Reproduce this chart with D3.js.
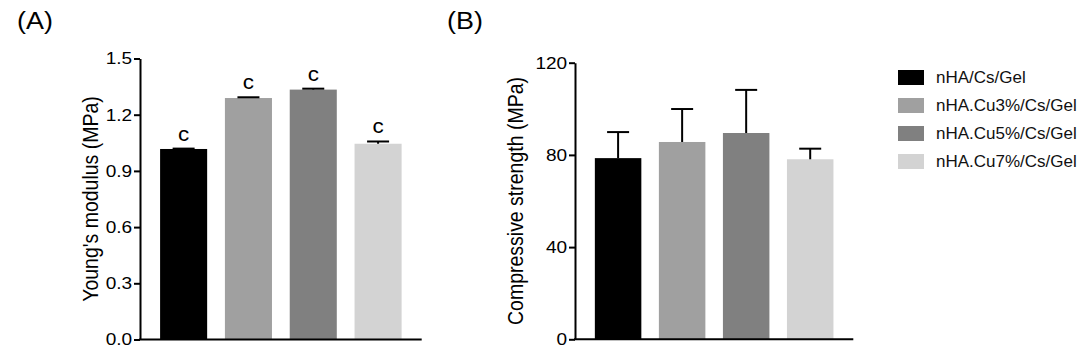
<!DOCTYPE html>
<html>
<head>
<meta charset="utf-8">
<script src="https://cdn.jsdelivr.net/npm/d3@7"></script>
<style>
  body { margin: 0; background: #fff; }
  svg { display: block; font-family: "Liberation Sans", Arial, sans-serif; }
</style>
</head>
<body>
<svg id="graph"></svg>
<script>
// data
var groups = ["nHA/Cs/Gel", "nHA.Cu3%/Cs/Gel", "nHA.Cu5%/Cs/Gel", "nHA.Cu7%/Cs/Gel"];
var youngMean = [1.017, 1.289, 1.334, 1.045];
var youngSd = [0.002, 0.004, 0.005, 0.012];
var youngLetters = ["c", "c", "c", "c"];
var youngTicks = [0, 0.3, 0.6, 0.9, 1.2, 1.5];
var compMean = [78.6, 85.6, 89.5, 78.1];
var compSd = [11.3, 14.3, 18.7, 4.6];
var compTicks = [0, 40, 80, 120];

var barColors = ["#000000", "#a0a0a0", "#808080", "#d3d3d3"];

var width = 1090, height = 353;
var stretch = 1.12;   // the figure text is a bit wider than plain Arial
var svg = d3.select("#graph").attr("width", width).attr("height", height);

function drawPanel(p) {
    var g = svg.append("g");
    var x = d3.scaleBand()
        .domain(groups)
        .range([p.left, p.right])
        .paddingInner(0.274)
        .paddingOuter(0.31);
    var y = d3.scaleLinear()
        .domain([0, p.max])
        .range([p.bottom, p.top]);

    var rows = groups.map(function (name, i) {
        return { name: name, mean: p.mean[i], sd: p.sd[i], letter: p.letters ? p.letters[i] : null, color: barColors[i] };
    });

    // bars
    g.selectAll("rect.bar")
        .data(rows)
        .enter()
        .append("rect")
        .attr("class", "bar")
        .attr("x", d => x(d.name))
        .attr("y", d => y(d.mean))
        .attr("width", x.bandwidth())
        .attr("height", d => y(0) - y(d.mean))
        .attr("fill", d => d.color);

    // upper error bars
    var capHalf = 11;
    var eb = g.selectAll("g.err")
        .data(rows)
        .enter()
        .append("g")
        .attr("class", "err")
        .attr("stroke", "#000")
        .attr("stroke-width", 2);
    eb.append("line")
        .attr("x1", d => x(d.name) + x.bandwidth() / 2)
        .attr("x2", d => x(d.name) + x.bandwidth() / 2)
        .attr("y1", d => y(d.mean))
        .attr("y2", d => y(d.mean + d.sd));
    eb.append("line")
        .attr("x1", d => x(d.name) + x.bandwidth() / 2 - capHalf)
        .attr("x2", d => x(d.name) + x.bandwidth() / 2 + capHalf)
        .attr("y1", d => y(d.mean + d.sd))
        .attr("y2", d => y(d.mean + d.sd));

    // significance letters
    if (p.letters) {
        g.selectAll("text.sig")
            .data(rows)
            .enter()
            .append("text")
            .attr("class", "sig")
            .attr("transform", d => "translate(" + (x(d.name) + x.bandwidth() / 2) + "," + (y(d.mean + d.sd) - 8) + ") scale(" + stretch + ",1)")
            .attr("text-anchor", "middle")
            .attr("font-size", 20)
            .text(d => d.letter);
    }

    // y axis
    var yAxis = g.append("g")
        .attr("transform", "translate(" + p.left + ",0)")
        .call(d3.axisLeft(y).tickValues(p.ticks).tickFormat(d3.format(p.fmt)).tickSize(6).tickSizeOuter(0).tickPadding(2));
    yAxis.select(".domain").attr("stroke-width", 2);
    yAxis.selectAll(".tick line").attr("stroke-width", 2);
    yAxis.selectAll(".tick text")
        .attr("x", -7)
        .attr("transform", "scale(" + stretch + ",1)")
        .attr("font-size", 17)
        .attr("font-family", "Liberation Sans, Arial, sans-serif")
        .attr("fill", "#000");

    // x axis (plain baseline)
    var xAxis = g.append("g")
        .attr("transform", "translate(0," + y(0) + ")")
        .call(d3.axisBottom(x).tickSize(0).tickSizeOuter(0).tickFormat(""));
    xAxis.select(".domain").attr("stroke-width", 2).attr("d", "M" + (p.left - 1) + ",0H" + p.right);

    // y title
    g.append("text")
        .attr("transform", "translate(" + p.titleX + "," + ((p.top + p.bottom) / 2) + ") rotate(-90) scale(1," + stretch + ")")
        .attr("text-anchor", "middle")
        .attr("font-size", 19.5)
        .text(p.title);

    // panel label
    g.append("text")
        .attr("transform", "translate(" + p.labelX + ",29) scale(1.17,1)")
        .attr("font-size", 23)
        .text(p.label);
}

drawPanel({
    left: 140, right: 421.7, top: 58.5, bottom: 339.5, max: 1.5,
    mean: youngMean, sd: youngSd, letters: youngLetters, ticks: youngTicks, fmt: ".1f",
    title: "Young's modulus (MPa)", titleX: 98, label: "(A)", labelX: 17
});

drawPanel({
    left: 575, right: 853.3, top: 62.7, bottom: 339.3, max: 120,
    mean: compMean, sd: compSd, letters: null, ticks: compTicks, fmt: "d",
    title: "Compressive strength (MPa)", titleX: 523, label: "(B)", labelX: 447
});

// legend
var legend = svg.append("g")
    .selectAll("g")
    .data(groups)
    .enter()
    .append("g")
    .attr("transform", (d, i) => "translate(898," + (70 + i * 28) + ")");
legend.append("rect")
    .attr("width", 26)
    .attr("height", 15)
    .attr("fill", (d, i) => barColors[i]);
legend.append("text")
    .attr("x", 38)
    .attr("y", 7.5)
    .attr("dy", "0.35em")
    .attr("font-size", 17)
    .attr("fill", "#111")
    .text(d => d);
</script>
</body>
</html>
